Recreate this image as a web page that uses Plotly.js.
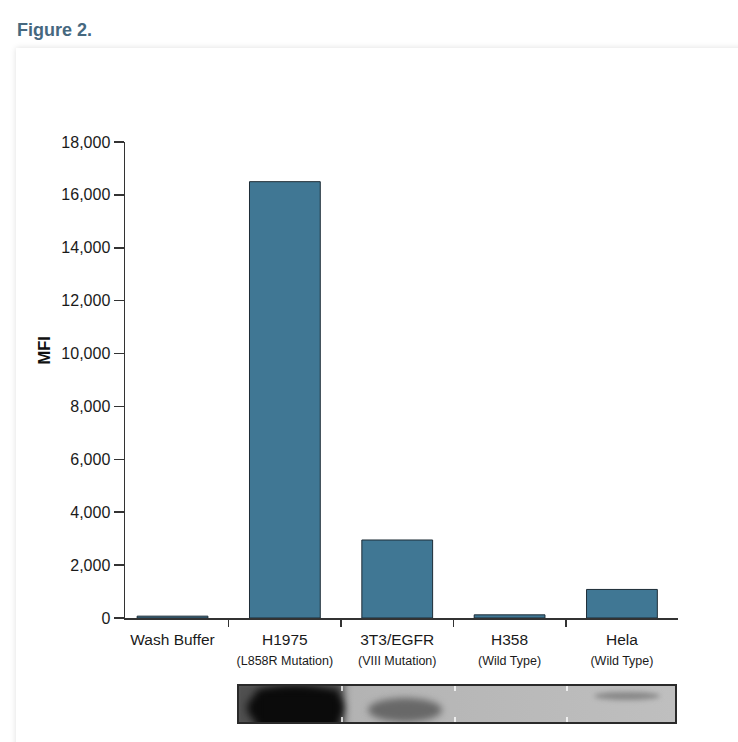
<!DOCTYPE html>
<html><head><meta charset="utf-8">
<script src="https://cdn.plot.ly/plotly-3.0.1.min.js"></script>
<style>
html,body{margin:0;padding:0;background:#fff;width:738px;height:742px;overflow:hidden;}
#card{position:absolute;left:16px;top:48px;width:760px;height:760px;background:#fff;box-shadow:0 0 6px rgba(0,0,0,0.13);}
#chart{position:absolute;left:0;top:0;width:738px;height:742px;}
</style></head><body>
<div id="card"></div><div id="chart"></div>
<script>
// ---- data ----
const categories = ['Wash Buffer', 'H1975', '3T3/EGFR', 'H358', 'Hela'];
const subLabels = ['', '(L858R Mutation)', '(VIII Mutation)', '(Wild Type)', '(Wild Type)'];
const mfiValues = [70, 16500, 2950, 120, 1080];
const yTickValues = [0, 2000, 4000, 6000, 8000, 10000, 12000, 14000, 16000, 18000];
const yTickLabels = ['0', '2,000', '4,000', '6,000', '8,000', '10,000', '12,000', '14,000', '16,000', '18,000'];

// ---- styling ----
const FONT = '"Liberation Sans", Arial, sans-serif';
const xLabels = categories.map((c, i) => subLabels[i]
  ? c + '<br><span style="font-size:12.5px">' + subLabels[i] + '</span>'
  : c + '<br> ');

// ---- western blot strip drawn on a canvas ----
function makeBlot() {
  const W = 440, H = 40;
  const cv = document.createElement('canvas');
  cv.width = W; cv.height = H;
  const ctx = cv.getContext('2d');
  const g = ctx.createLinearGradient(0, 0, W, 0);
  g.addColorStop(0, '#a9a9a9'); g.addColorStop(0.3, '#b4b4b4'); g.addColorStop(1, '#bfbfbf');
  ctx.fillStyle = g; ctx.fillRect(0, 0, W, H);
  ctx.filter = 'blur(4px)';
  // lane 1: dark saturated band
  ctx.fillStyle = '#505050'; ctx.fillRect(-5, -5, 112, 50);
  ctx.fillStyle = '#0b0b0b';
  ctx.beginPath(); ctx.ellipse(58, 24, 48, 22, 0, 0, Math.PI * 2); ctx.fill();
  ctx.fillRect(20, 6, 82, 40);
  // lane 2: medium band
  ctx.filter = 'blur(3.5px)';
  ctx.fillStyle = '#686868';
  ctx.beginPath(); ctx.ellipse(168, 26, 37, 12, 0, 0, Math.PI * 2); ctx.fill();
  // lane 4: faint band
  ctx.filter = 'blur(2.5px)';
  ctx.fillStyle = '#888888';
  ctx.beginPath(); ctx.ellipse(390, 12, 33, 4, 0, 0, Math.PI * 2); ctx.fill();
  ctx.filter = 'none';
  // lane separators
  ctx.strokeStyle = '#ffffff'; ctx.lineWidth = 1.5;
  [105, 218, 330].forEach(x => {
    ctx.beginPath(); ctx.moveTo(x, 0); ctx.lineTo(x, 7); ctx.stroke();
    ctx.beginPath(); ctx.moveTo(x, H - 7); ctx.lineTo(x, H); ctx.stroke();
  });
  ctx.strokeStyle = '#2a2a2a'; ctx.lineWidth = 2;
  ctx.strokeRect(1, 1, W - 2, H - 2);
  return cv.toDataURL('image/png');
}

const trace = {
  type: 'bar',
  x: xLabels,
  y: mfiValues,
  width: 0.63,
  marker: { color: '#407794', line: { color: '#1d2c36', width: 1 } },
  hoverinfo: 'skip'
};

const layout = {
  width: 738, height: 742,
  margin: { l: 125, r: 60, t: 142, b: 124 },
  paper_bgcolor: 'rgba(0,0,0,0)',
  plot_bgcolor: 'rgba(0,0,0,0)',
  showlegend: false,
  font: { family: FONT, color: '#1a1a1a' },
  title: {
    text: 'Figure 2.',
    font: { family: FONT, size: 18, weight: 'bold', color: '#46687f' },
    xref: 'container', yref: 'container',
    x: 17 / 738, xanchor: 'left',
    y: 1 - 23 / 742, yanchor: 'top'
  },
  xaxis: {
    type: 'category',
    range: [-0.423, 4.499],
    tickson: 'boundaries',
    tickangle: 0,
    ticks: 'outside', ticklen: 7, tickwidth: 1.5, tickcolor: '#333',
    ticklabelstandoff: 7,
    showline: true, linecolor: '#333', linewidth: 1.5,
    showgrid: false, zeroline: false,
    tickfont: { family: FONT, size: 15.5, color: '#1a1a1a' },
    fixedrange: true
  },
  yaxis: {
    range: [0, 18000],
    tickmode: 'array', tickvals: yTickValues, ticktext: yTickLabels,
    ticks: 'outside', ticklen: 10, tickwidth: 1.5, tickcolor: '#333',
    showline: true, linecolor: '#333', linewidth: 1.5,
    showgrid: false, zeroline: false,
    tickfont: { family: FONT, size: 16, color: '#1a1a1a' },
    fixedrange: true
  },
  annotations: [{
    text: 'MFI', textangle: -90, showarrow: false,
    xref: 'paper', yref: 'paper',
    x: (43.5 - 125) / 553, y: (618 - 351) / 476,
    xanchor: 'center', yanchor: 'middle',
    font: { family: FONT, size: 16.5, weight: 'bold', color: '#111' }
  }],
  images: [{
    source: makeBlot(),
    xref: 'paper', yref: 'paper',
    x: (237 - 125) / 553, y: (618 - 684) / 476,
    sizex: 440 / 553, sizey: 40 / 476,
    xanchor: 'left', yanchor: 'top',
    sizing: 'stretch', layer: 'above'
  }]
};

Plotly.newPlot('chart', [trace], layout, { displayModeBar: false, staticPlot: true });
</script>
</body></html>
